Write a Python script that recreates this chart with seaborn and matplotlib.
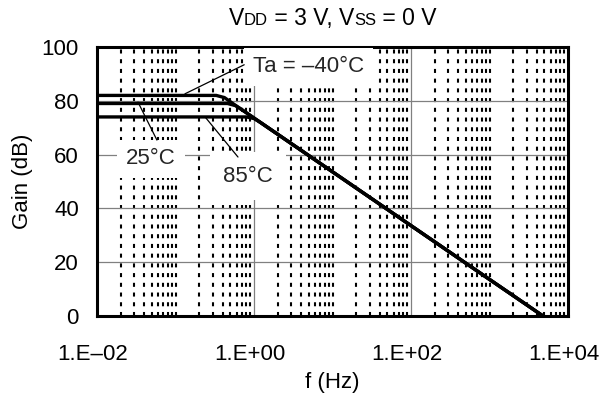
import numpy as np
import pandas as pd
import matplotlib
matplotlib.use("Agg")
import matplotlib.pyplot as plt
from matplotlib.ticker import FixedLocator, LogLocator, NullFormatter
from matplotlib.offsetbox import TextArea, HPacker, AnchoredOffsetbox
from matplotlib.transforms import ScaledTranslation
import seaborn as sns

# Open-loop gain vs frequency at three ambient temperatures
freq_m40 = [0.01, 0.33, 0.42, 0.55, 1.0, 10.0, 100.0, 1000.0, 4800.0]
gain_m40 = [82.0, 82.0, 81.2, 78.8, 73.6, 53.6, 33.6, 13.6, 0.0]

freq_25 = [0.01, 0.46, 0.58, 0.70, 1.0, 10.0, 100.0, 1000.0, 4800.0]
gain_25 = [79.0, 79.0, 78.2, 76.7, 73.6, 53.6, 33.6, 13.6, 0.0]

freq_85 = [0.01, 0.80, 1.0, 1.2, 10.0, 100.0, 1000.0, 4800.0]
gain_85 = [74.0, 74.0, 73.4, 72.0, 53.6, 33.6, 13.6, 0.0]

temps = ["-40", "25", "85"]
x_ticks = [1e-2, 1e0, 1e2, 1e4]
x_tick_labels = ["1.E\u201302", "1.E+00", "1.E+02", "1.E+04"]
y_ticks = [0, 20, 40, 60, 80, 100]

df = pd.concat([
    pd.DataFrame({"f": freq_m40, "gain": gain_m40, "Ta": temps[0]}),
    pd.DataFrame({"f": freq_25, "gain": gain_25, "Ta": temps[1]}),
    pd.DataFrame({"f": freq_85, "gain": gain_85, "Ta": temps[2]}),
], ignore_index=True)

sns.set_theme(style="white")
plt.rcParams["font.family"] = ["Liberation Sans", "DejaVu Sans"]
plt.rcParams["lines.scale_dashes"] = False
plt.rcParams["axes.unicode_minus"] = False

FS = 16

fig = plt.figure(figsize=(6.08, 3.96), dpi=100)
ax = fig.add_axes([97 / 608, 1 - 316 / 396, (568 - 97) / 608, (316 - 47) / 396])

sns.lineplot(data=df, x="f", y="gain", hue="Ta", palette=["black"] * 3,
             estimator=None, sort=False, legend=False, linewidth=2.4, ax=ax,
             zorder=2)

ax.set_xscale("log")
ax.set_xlim(1e-2, 1e4)
ax.set_ylim(0, 100)

ax.xaxis.set_major_locator(FixedLocator(x_ticks))
ax.set_xticklabels(x_tick_labels)
ax.xaxis.set_minor_locator(LogLocator(base=10, subs=np.arange(1, 10), numticks=50))
ax.xaxis.set_minor_formatter(NullFormatter())
ax.set_yticks(y_ticks)

ax.grid(which="major", axis="both", color="#808080", linewidth=0.9, zorder=0.5)
ax.grid(which="minor", axis="x", color="black", linewidth=1.5,
        linestyle=(0, (2.9, 4.1)), zorder=0.5)
ax.set_axisbelow(True)

ax.tick_params(axis="both", which="both", length=0, labelsize=FS, colors="black")
ax.tick_params(axis="x", pad=20)
ax.tick_params(axis="y", pad=13)

# nudge the frequency labels slightly to the left
shift = ScaledTranslation(-4 / 100, 0, fig.dpi_scale_trans)
for lab in ax.get_xticklabels():
    lab.set_transform(lab.get_transform() + shift)

for sp in ax.spines.values():
    sp.set_visible(True)
    sp.set_color("black")
    sp.set_linewidth(2.2)

ax.set_xlabel("f (Hz)", fontsize=FS, labelpad=5, color="black")
ax.set_ylabel("Gain (dB)", fontsize=FS, labelpad=6, color="black")

# Curve labels with white boxes and leader lines
box = dict(boxstyle="square,pad=0.4", facecolor="white", edgecolor="none")
ax.text(5.0, 92.6, "Ta = \u201340\u00b0C", fontsize=FS, ha="center", va="center",
        bbox=box, zorder=3)
ax.plot([0.132, 0.75], [82.6, 93.4], color="black", linewidth=0.9, zorder=4)

ax.text(0.0488, 58.4, "25\u00b0C", fontsize=FS, ha="center", va="center",
        bbox=box, zorder=3)
ax.plot([0.0333, 0.058], [79.5, 65.4], color="black", linewidth=0.9, zorder=4)

ax.text(0.84, 52.0, "85\u00b0C", fontsize=FS, ha="center", va="center",
        bbox=dict(boxstyle="square,pad=0.6", facecolor="white", edgecolor="none"),
        zorder=3)
ax.plot([0.238, 0.625], [74.0, 59.1], color="black", linewidth=0.9, zorder=4)

# Title with reduced-size supply subscripts on the baseline
big, small = 16.5, 12
pieces = [("V", big), ("DD", small), (" = 3 V, V", big), ("SS", small), (" = 0 V", big)]
areas = [TextArea(t, textprops=dict(fontsize=s, color="black",
                                     family=["Liberation Sans", "DejaVu Sans"]))
         for t, s in pieces]
pack = HPacker(children=areas, align="baseline", pad=0, sep=0)
anch = AnchoredOffsetbox(loc="lower center", child=pack, pad=0, borderpad=0,
                         frameon=False, bbox_to_anchor=(332.5 / 608, 1 - 30 / 396),
                         bbox_transform=fig.transFigure)
fig.add_artist(anch)

fig.savefig("out.png", dpi=100, facecolor="white")
